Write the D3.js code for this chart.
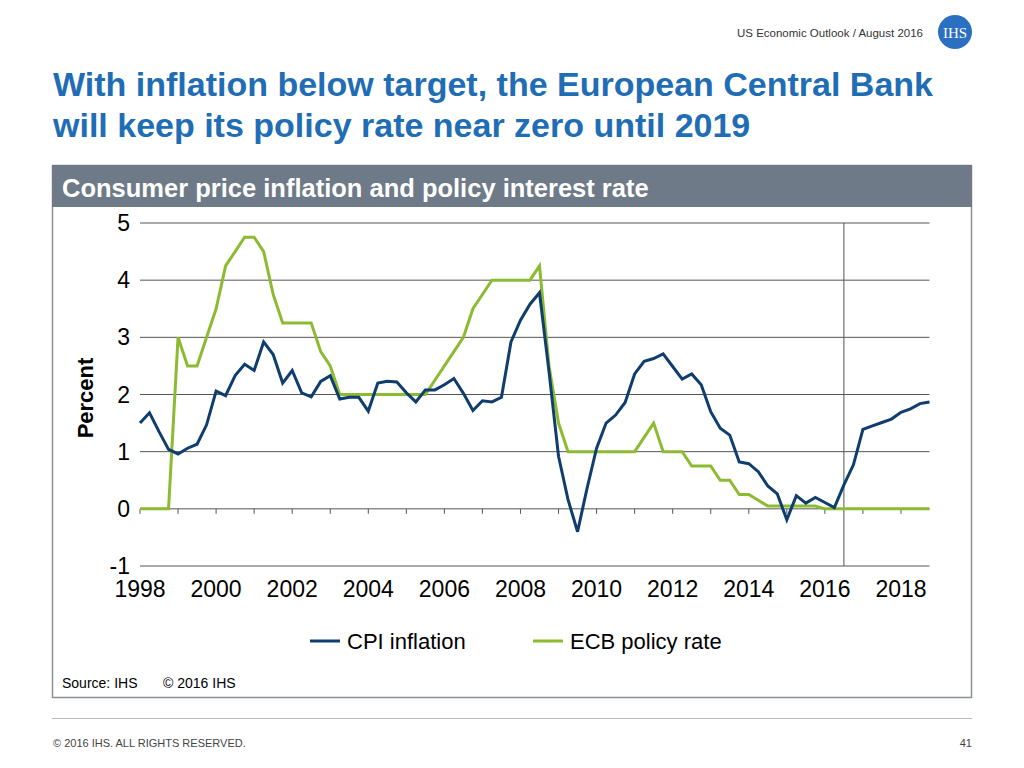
<!DOCTYPE html>
<html><head><meta charset="utf-8">
<script src="https://cdn.jsdelivr.net/npm/d3@7"></script>
<style>body{margin:0;background:#fff;font-family:"Liberation Sans",Arial,sans-serif}</style>
</head><body><svg id="c" width="1024" height="768"></svg>
<script>
const startYear = 1998;
const cpi = [1.50,1.68,1.35,1.04,0.96,1.06,1.13,1.47,2.06,1.98,2.33,2.53,2.42,2.92,2.70,2.20,2.42,2.03,1.96,2.23,2.33,1.92,1.95,1.95,1.71,2.20,2.23,2.22,2.03,1.87,2.08,2.08,2.17,2.28,2.02,1.72,1.89,1.87,1.95,2.92,3.30,3.58,3.78,2.40,0.92,0.16,-0.40,0.36,1.06,1.50,1.64,1.86,2.36,2.58,2.63,2.71,2.49,2.27,2.36,2.17,1.70,1.41,1.29,0.82,0.79,0.65,0.40,0.26,-0.19,0.23,0.10,0.20,0.11,0.02,0.42,0.77,1.39,1.45,1.51,1.57,1.69,1.75,1.84,1.87];
const ecb = [0,0,0,0,3.0,2.5,2.5,3.0,3.5,4.25,4.5,4.75,4.75,4.5,3.75,3.25,3.25,3.25,3.25,2.75,2.5,2.0,2.0,2.0,2.0,2.0,2.0,2.0,2.0,2.0,2.0,2.25,2.5,2.75,3.0,3.5,3.75,4.0,4.0,4.0,4.0,4.0,4.25,2.5,1.5,1.0,1.0,1.0,1.0,1.0,1.0,1.0,1.0,1.25,1.5,1.0,1.0,1.0,0.75,0.75,0.75,0.5,0.5,0.25,0.25,0.15,0.05,0.05,0.05,0.05,0.05,0.05,0,0,0,0,0,0,0,0,0,0,0,0];
const yTicks = [-1,0,1,2,3,4,5];
const xLabels = [1998,2000,2002,2004,2006,2008,2010,2012,2014,2016,2018];
const forecastStart = 2016.5;

const svg = d3.select("#c");
const blue = "#1f6db5";
svg.append("text").attr("x",923).attr("y",37).attr("text-anchor","end").attr("font-size",11.5).attr("fill","#333").text("US Economic Outlook / August 2016");
svg.append("circle").attr("cx",955).attr("cy",32).attr("r",17).attr("fill","#2a6fc0");
svg.append("text").attr("x",955).attr("y",38).attr("text-anchor","middle").attr("font-size",15).attr("font-family","Liberation Serif").attr("fill","#fff").text("IHS");
svg.append("text").attr("x",53).attr("y",96).attr("font-size",34).attr("font-weight","bold").attr("fill",blue).text("With inflation below target, the European Central Bank");
svg.append("text").attr("x",53).attr("y",137).attr("font-size",34).attr("font-weight","bold").attr("fill",blue).text("will keep its policy rate near zero until 2019");

svg.append("rect").attr("x",52.5).attr("y",165.5).attr("width",919).attr("height",532).attr("fill","#fff").attr("stroke","#8a8f96").attr("stroke-width",1.5);
svg.append("rect").attr("x",52).attr("y",165).attr("width",920).attr("height",42).attr("fill","#6e7a87");
svg.append("text").attr("x",62).attr("y",197).attr("font-size",25.5).attr("font-weight","bold").attr("fill","#fff").text("Consumer price inflation and policy interest rate");

const x = d3.scaleLinear().domain([1998,2018.75]).range([140,929.5]);
const y = d3.scaleLinear().domain([-1,5]).range([566,223]);
const g = svg.append("g");
g.selectAll(".grid").data(yTicks).join("line").attr("x1",140).attr("x2",929.5).attr("y1",d=>y(d)).attr("y2",d=>y(d)).attr("stroke","#555").attr("stroke-width",1);
g.selectAll(".yl").data(yTicks).join("text").attr("x",130).attr("y",d=>y(d)+8).attr("text-anchor","end").attr("font-size",23).attr("fill","#000").text(d=>d);
const years = d3.range(1998,2019);
g.selectAll(".tk").data(years).join("line").attr("x1",d=>x(d)).attr("x2",d=>x(d)).attr("y1",y(0)).attr("y2",y(0)+5).attr("stroke","#555");
g.selectAll(".xl").data(xLabels).join("text").attr("x",d=>x(d)).attr("y",597).attr("text-anchor","middle").attr("font-size",23).text(d=>d);
g.append("line").attr("x1",x(forecastStart)).attr("x2",x(forecastStart)).attr("y1",y(5)).attr("y2",y(-1)).attr("stroke","#555");
svg.append("text").attr("transform","translate(93,398) rotate(-90)").attr("text-anchor","middle").attr("font-size",22).attr("font-weight","bold").text("Percent");

const line = d3.line().x((d,i)=>x(startYear+i/4)).y(d=>y(d));
g.append("path").datum(ecb).attr("d",line).attr("fill","none").attr("stroke","#8cbb31").attr("stroke-width",3);
g.append("path").datum(cpi).attr("d",line).attr("fill","none").attr("stroke","#0f3d6e").attr("stroke-width",3);

const leg = [["CPI inflation","#0f3d6e",310],["ECB policy rate","#8cbb31",533]];
leg.forEach(([t,c,lx])=>{
  svg.append("line").attr("x1",lx).attr("x2",lx+30).attr("y1",641).attr("y2",641).attr("stroke",c).attr("stroke-width",3);
  svg.append("text").attr("x",lx+37).attr("y",649).attr("font-size",22).text(t);
});
svg.append("text").attr("x",62).attr("y",688).attr("font-size",14).text("Source: IHS");
svg.append("text").attr("x",163).attr("y",688).attr("font-size",14).text("© 2016 IHS");
svg.append("line").attr("x1",52).attr("x2",972).attr("y1",718.5).attr("y2",718.5).attr("stroke","#bbb");
svg.append("text").attr("x",53).attr("y",747).attr("font-size",11).attr("fill","#444").text("© 2016 IHS. ALL RIGHTS RESERVED.");
svg.append("text").attr("x",972).attr("y",747).attr("text-anchor","end").attr("font-size",11).attr("fill","#444").text("41");
</script></body></html>
